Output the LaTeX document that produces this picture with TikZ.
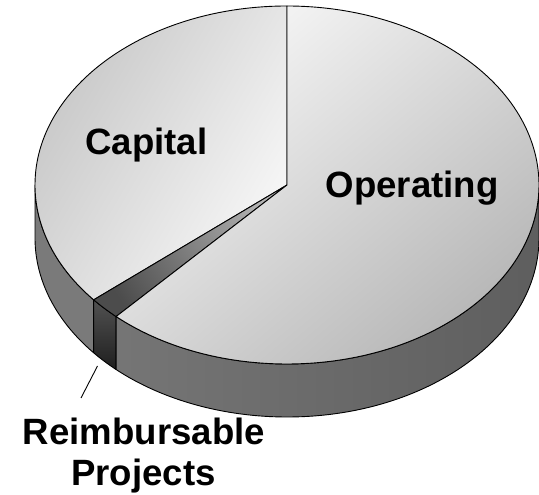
\documentclass[tikz,border=0pt]{standalone}
\usepackage{fontspec}
\setmainfont{Liberation Sans}
\begin{document}
\begin{tikzpicture}[x=1pt,y=1pt,
  edge/.style={draw=black,line width=0.9pt,line join=round},
  lbl/.style={font=\bfseries\fontsize{36.6}{41}\selectfont,inner sep=0pt,anchor=base}]
\useasboundingbox (0,0) rectangle (539,495);
\def\cx{287}\def\cy{310}\def\rx{252}\def\ry{179}\def\dep{53}
\def\ta{219.9}\def\tb{227.3}
% pie centre and rim points
\coordinate (C) at (\cx,\cy);
\coordinate (T) at (\cx,{\cy+\ry});
\coordinate (L) at ({\cx-\rx},\cy);
\coordinate (PA) at ({\cx+\rx*cos(\ta)},{\cy+\ry*sin(\ta)});
\coordinate (PB) at ({\cx+\rx*cos(\tb)},{\cy+\ry*sin(\tb)});
\coordinate (R) at ({\cx+\rx},\cy);
% sides
\path[edge,fill=black!52] (L) arc[start angle=180,end angle=\ta,x radius=\rx,y radius=\ry]
  -- ++(0,-\dep) arc[start angle=\ta,end angle=180,x radius=\rx,y radius=\ry] -- cycle;
\path[edge,top color=black!68,bottom color=black!88] (PA) arc[start angle=\ta,end angle=\tb,x radius=\rx,y radius=\ry]
  -- ++(0,-\dep) arc[start angle=\tb,end angle=\ta,x radius=\rx,y radius=\ry] -- cycle;
\path[edge,left color=black!54,right color=black!63] (PB) arc[start angle=\tb,end angle=360,x radius=\rx,y radius=\ry]
  -- ++(0,-\dep) arc[start angle=360,end angle=\tb,x radius=\rx,y radius=\ry] -- cycle;
% top faces
\path[edge,top color=black!22,bottom color=black!3,shading angle=60] (C) -- (T)
  arc[start angle=90,end angle=\ta,x radius=\rx,y radius=\ry] -- cycle;
\path[edge,top color=black!30,bottom color=black!70,shading angle=-56] (C) -- (PA)
  arc[start angle=\ta,end angle=\tb,x radius=\rx,y radius=\ry] -- cycle;
\path[edge,top color=black!3,bottom color=black!30,shading angle=40] (C) -- (PB)
  arc[start angle=\tb,end angle=450,x radius=\rx,y radius=\ry] -- cycle;
% labels
\node[lbl] (cap) at (146.5,340) {Capital};
\node[lbl] (op) at (412,297) {Operating};
\node[lbl] (re) at (144,50) {Reimbursable};
\node[lbl] (pr) at (143.5,9) {Projects};
\coordinate (tickA) at (97.5,129);
\coordinate (tickB) at (81,97);
\draw[line width=0.9pt] (tickB) -- (tickA);
\end{tikzpicture}
\end{document}
